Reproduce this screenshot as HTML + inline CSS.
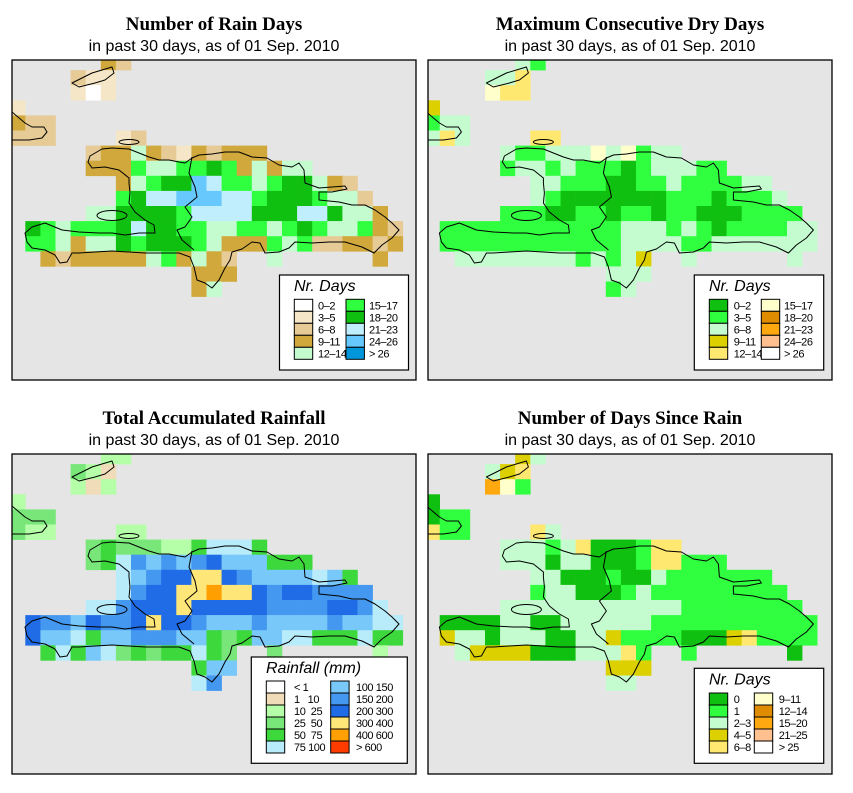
<!DOCTYPE html>
<html><head><meta charset="utf-8"><style>
html,body{margin:0;padding:0;background:#fff;}
svg{display:block;font-family:"Liberation Sans",sans-serif;}
.t{font-family:"Liberation Serif",serif;font-weight:bold;font-size:19px;}
.s{font-size:16px;}
.lt{font-style:italic;font-size:16px;}
.ll{font-size:11px;letter-spacing:-0.4px;}
</style></head><body>
<svg id="c" width="853" height="793" viewBox="0 0 853 793" xmlns="http://www.w3.org/2000/svg"></svg>
<script>
// ---- data: grid cells [row, startCol, codes] ----
const rainDaysCells=[[0,6,"cb"],[1,4,"baa"],[2,4,"aWa"],[3,0,"a"],[4,0,"cbb"],[5,0,"bbb"],[5,7,"ab"],
[6,5,"bccdcbacbccc"],[7,5,"ccceddeefecdcdd"],[8,7,"cdeffhgeedeffdcb"],[9,7,"efgghhhggefffeddb"],
[10,5,"ddffffeggggfffggfddc"],[11,1,"fedeeefgffeeddeedefeddecb"],[12,1,"eedcddfefffedcccedebbccbc"],
[13,2,"cbcccccdecdcb"],[13,17,"d"],[13,24,"c"],[14,12,"ccc"],[15,12,"cd"]];
const dryDaysCells=[[0,6,"CB"],[1,4,"CCE"],[2,4,"FEE"],[3,0,"D"],[4,0,"BCC"],[5,0,"CEC"],[5,7,"EE"],
[6,5,"CBBCCCFCFBCC"],[7,5,"BCCBCBBBABCCCBB"],[8,7,"CCBBBAABBCBBBBCC"],[9,7,"CBAAAAAAABBBABBBC"],
[10,5,"BBBAABBABBABBAAABBBB"],[11,1,"BBBBBBBBBBBBCCCBCBABBBBCC"],[12,1,"BBBBBBBBBBBBCCCCBBCCCCCCC"],
[13,2,"CCCCCCCCBCBCD"],[13,17,"C"],[13,24,"C"],[14,12,"CCC"],[15,12,"BC"]];
const rainfallCells=[[0,6,"33"],[1,4,"432"],[2,4,"323"],[3,0,"3"],[4,0,"444"],[5,0,"433"],[5,7,"33"],
[6,5,"454443356665"],[7,5,"456878789777555"],[8,7,"67899TT987777675"],[9,7,"6899TTUTT98998888"],
[10,5,"668999T9999988889986"],[11,1,"98879889T9987778777787766"],[12,1,"9776577888775457766555655"],
[13,2,"5657645455654"],[13,17,"4"],[13,24,"3"],[14,12,"577"],[15,12,"68"]];
const sinceRainCells=[[0,6,"DC"],[1,4,"CDE"],[2,4,"HFB"],[3,0,"A"],[4,0,"ABB"],[5,0,"EBB"],[5,7,"EC"],
[6,5,"CCCBCEAAABEE"],[7,5,"CCCACCAAABEEBBB"],[8,7,"CCAAABAACBBBBBBB"],[9,7,"BCCAAABCBBBBBBBBB"],
[10,5,"CCCCCCCCCCCCBBBBBBBB"],[11,1,"AAAACCAACCCCCCBBBBBBBBBBB"],[12,1,"DCCACCCAACCDBBBBAAADEBBBB"],
[13,2,"CDDDDAAACCCEB"],[13,17,"B"],[13,24,"A"],[14,12,"DDD"],[15,12,"CC"]];
const rainDaysCodes="Wabcdefghi";
const rainDaysLabels=["0–2","3–5","6–8","9–11","12–14","15–17","18–20","21–23","24–26","> 26"];
const rainDaysColors=["#ffffff","#f5e6c8","#e6cb96","#d0a83c","#c4fcd0","#30ff40","#10c010","#c0eefc","#66c8fc","#0096dc"];
const dryCodes="ABCDEFGHIJ";
const dryLabels=["0–2","3–5","6–8","9–11","12–14","15–17","18–20","21–23","24–26","> 26"];
const sinceLabels=["0","1","2–3","4–5","6–8","9–11","12–14","15–20","21–25","> 25"];
const dryColors=["#10c010","#30ff40","#c4fcd0","#dcd000","#ffe870","#ffffcc","#e08c00","#ffa810","#ffc090","#ffffff"];
const rainCodes="123456789TUV";
const rainLabels=["< 1","1   10","10  25","25  50","50  75","75 100","100 150","150 200","200 300","300 400","400 600","> 600"];
const rainColors=["#ffffff","#f0dcb8","#b4ffa8","#78e678","#3cd83c","#b8ecfa","#78c8fa","#4498f0","#206ce6","#ffe678","#ffa000","#ff3c00"];

const NS="http://www.w3.org/2000/svg";
const svg=document.getElementById('c');
function mk(tag,attrs,parent){const e=document.createElementNS(NS,tag);for(const k in attrs)e.setAttribute(k,attrs[k]);(parent||svg).appendChild(e);return e;}
const coast=[[78,96],[90,89],[100,88],[117,89],[127,93],[137,97],[147,100],[157,100],[167,102],[173,103],[180,98],[187,95],[200,94],[213,92],[227,92],[240,97],[255,98],[267,105],[280,107],[287,103],[292,110],[293,123],[307,128],[320,127],[333,126],[335,129],[320,132],[307,132],[307,140],[327,142],[340,145],[353,145],[363,150],[373,157],[380,163],[387,170],[380,178],[370,185],[362,193],[350,187],[333,182],[317,182],[300,183],[283,182],[277,188],[267,192],[253,193],[248,183],[240,182],[230,189],[220,192],[218,200],[213,208],[207,220],[200,228],[193,223],[185,220],[182,207],[178,197],[167,193],[150,193],[133,193],[117,192],[100,191],[83,192],[67,193],[60,193],[55,202],[48,203],[43,195],[33,190],[20,188],[15,182],[13,173],[20,167],[33,163],[50,170],[67,172],[87,173],[100,173],[113,175],[127,173],[143,173],[142,165],[133,160],[123,152],[117,143],[118,133],[117,123],[117,118],[107,110],[93,107],[80,108],[76,102]];
const border=[[180,97],[177,113],[183,127],[185,137],[173,147],[180,157],[173,167],[165,170],[170,180],[182,190]];
const inagua=[[60,23],[80,13],[100,7],[102,13],[93,20],[83,23],[67,27]];
const cuba=[[0,52],[13,63],[20,67],[32,67],[35,72],[30,78],[17,80],[0,80]];
function pts(a,dx,dy,close){return "M"+a.map(p=>(p[0]+dx).toFixed(1)+","+(p[1]+dy).toFixed(1)).join(" L")+(close?" Z":"");}

function panel(o){
  const g=mk('g',{});
  
  
  const t=mk('text',{x:o.fx+202,y:o.fy-30,'text-anchor':'middle',class:'t'},g);t.textContent=o.title;
  
  
  const s=mk('text',{x:o.fx+202,y:o.fy-9,'text-anchor':'middle',class:'s'},g);s.textContent="in past 30 days, as of  01 Sep. 2010";
  
  
  const clipId='clip'+o.fx+'_'+o.fy;
  const cp=mk('clipPath',{id:clipId},g);mk('rect',{x:o.fx,y:o.fy,width:404,height:320},cp);
  const bg=mk('rect',{x:o.fx,y:o.fy,width:404,height:320,fill:'#e5e5e5'},g);
  
  
  const mg=mk('g',{'clip-path':'url(#'+clipId+')'},g);
  const cw=15.1;
  for(const [r,c0,str] of o.cells){
    for(let i=0;i<str.length;i++){
      const idx=o.codes.indexOf(str[i]); if(idx<0)continue;
      const c=c0+i;
      const x=o.fx+o.ox+cw*c, y=o.fy-5+cw*r;
      const rc=mk('rect',{x:x.toFixed(2),y:y.toFixed(2),width:cw+0.3,height:cw+0.3,fill:o.colors[idx]},mg);
      
      
    }
  }
  const dx=o.fx+(o.ox+1.8), dy=o.fy;
  const st={fill:'none',stroke:'#000','stroke-width':1,'stroke-linejoin':'round'};
  const cg=mk('g',st,mg);
  
  
  mk('path',{d:pts(coast,dx,dy,true)},cg);
  mk('path',{d:pts(border,dx,dy,false)},cg);
  mk('path',{d:pts(inagua,dx,dy,true)},cg);
  mk('path',{d:pts(cuba,dx,dy,false)},cg);
  mk('ellipse',{cx:100+dx,cy:155.5+dy,rx:15,ry:5},cg);
  mk('ellipse',{cx:117+dx,cy:82+dy,rx:10,ry:2.5},cg);
  const fr=mk('rect',{x:o.fx,y:o.fy,width:404,height:320,fill:'none',stroke:'#000','stroke-width':1.3},g);
  
  
  const L=o.leg;
  const lg=mk('g',{},g);
  
  
  mk('rect',{x:L.x,y:L.y,width:L.w,height:L.h,fill:'#fff',stroke:'#000','stroke-width':1.2},lg);
  const lt=mk('text',{x:L.tx,y:L.ty,class:'lt'},lg);lt.textContent=o.legTitle;
  
  
  const per=o.labels.length/2;
  for(let i=0;i<o.labels.length;i++){
    const col=Math.floor(i/per), row=i%per;
    const sx=col?L.sx2:L.sx1, y=L.sy+row*12;
    const sw=mk('rect',{x:sx,y:y,width:18.4,height:12,fill:o.colors[i],stroke:'#000','stroke-width':1},lg);
    
    
    const tx=mk('text',{x:col?L.lx2:L.lx1,y:y+10,class:'ll'},lg);
    tx.setAttribute('style','white-space:pre');
    tx.textContent=o.labels[i];
    
    
  }
}
panel({name:'rain-days-map',fx:12,fy:60,ox:-1.8,title:'Number of Rain Days',cells:rainDaysCells,codes:rainDaysCodes,colors:rainDaysColors,labels:rainDaysLabels,legTitle:'Nr. Days',
  leg:{x:279.5,y:275,w:129,h:95,tx:294,ty:291,sx1:294.3,sx2:346,lx1:318,lx2:369,sy:299.3}});
panel({name:'dry-days-map',fx:428,fy:60,ox:-3.4,title:'Maximum Consecutive Dry Days',cells:dryDaysCells,codes:dryCodes,colors:dryColors,labels:dryLabels,legTitle:'Nr. Days',
  leg:{x:694.3,y:275,w:129.4,h:95,tx:709,ty:291,sx1:709.3,sx2:761.3,lx1:733.7,lx2:784,sy:299.3}});
panel({name:'rainfall-map',fx:12,fy:454,ox:-1.8,title:'Total Accumulated Rainfall',cells:rainfallCells,codes:rainCodes,colors:rainColors,labels:rainLabels,legTitle:'Rainfall (mm)',
  leg:{x:251.3,y:657,w:156,h:106.3,tx:266,ty:673,sx1:266.3,sx2:330.7,lx1:294,lx2:356,sy:681}});
panel({name:'days-since-rain-map',fx:428,fy:454,ox:-3.4,title:'Number of Days Since Rain',cells:sinceRainCells,codes:dryCodes,colors:dryColors,labels:sinceLabels,legTitle:'Nr. Days',
  leg:{x:694.3,y:668.3,w:129.4,h:95,tx:709,ty:684.5,sx1:709.3,sx2:754.3,lx1:733.7,lx2:778.7,sy:693}});
</script>
</body></html>
